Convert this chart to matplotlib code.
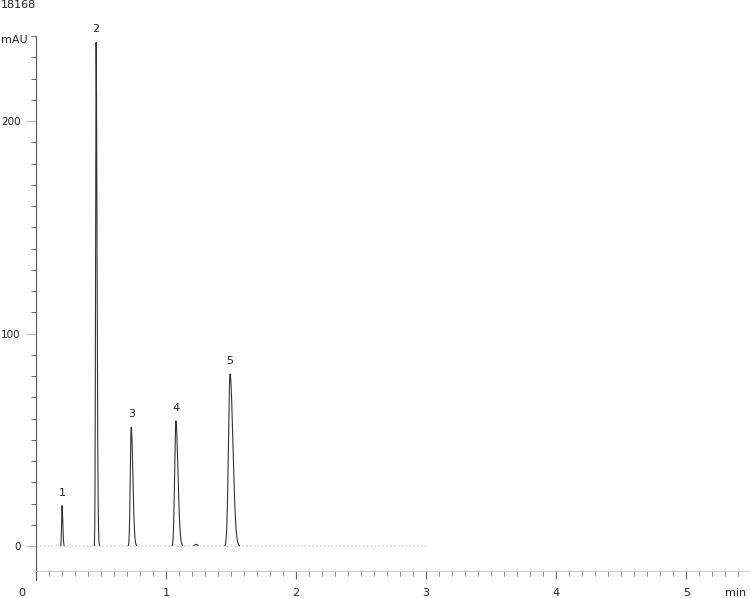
import numpy as np
import matplotlib.pyplot as plt
from matplotlib.ticker import MultipleLocator, FixedLocator
import matplotlib.transforms as mtransforms

# peak table
peak_ids = ["1", "2", "3", "4", "5"]
peak_rt = [0.20, 0.462, 0.732, 1.075, 1.492]       # min
peak_height = [19.0, 237.0, 56.0, 59.0, 81.0]      # mAU
peak_sigma = [0.0035, 0.004, 0.007, 0.009, 0.012]  # min (front side)
peak_tail = [1.6, 1.8, 1.8, 1.8, 1.8]             # back / front width ratio

# small unlabeled bump
bump_rt = [1.23]
bump_height = [0.8]
bump_sigma = [0.012]

run_end = 3.0
sample_id = "18168"

t = np.arange(0.0, run_end, 0.0005)
signal = np.zeros_like(t)
for rt, h, s, k in zip(peak_rt, peak_height, peak_sigma, peak_tail):
    sig = np.where(t < rt, s, s * k)
    signal += h * np.exp(-0.5 * ((t - rt) / sig) ** 2)
for rt, h, s in zip(bump_rt, bump_height, bump_sigma):
    signal += h * np.exp(-0.5 * ((t - rt) / s) ** 2)

fig = plt.figure(figsize=(7.5, 5.98), dpi=100)
ax = fig.add_axes([36 / 750, 1 - 571 / 598, 1 - 36 / 750, (571 - 35) / 598])

# faint baseline, dark peaks
trace = np.where(signal > 0.3, signal, np.nan)
ax.plot(t, np.zeros_like(t), color="#c8c8c8", lw=0.7, ls=(0, (2, 2)))
ax.plot(t, trace, color="#333333", lw=0.8)

ax.set_xlim(0, 5.49)
ax.set_ylim(-11.7, 240.5)

for s in ["top", "right"]:
    ax.spines[s].set_visible(False)
ax.spines["left"].set_color("#555555")
ax.spines["bottom"].set_color("#cccccc")
ax.spines["left"].set_bounds(-16, 240)

ax.yaxis.set_major_locator(FixedLocator([0, 100, 200]))
ax.yaxis.set_minor_locator(FixedLocator(np.arange(10, 241, 10)))
ax.xaxis.set_major_locator(MultipleLocator(1))
ax.xaxis.set_minor_locator(MultipleLocator(0.1))

ax.tick_params(axis="y", which="major", length=7, color="#bbbbbb", pad=4,
               labelsize=7.5, labelcolor="#222222")
ax.tick_params(axis="y", which="minor", length=3.5, color="#555555")
ax.tick_params(axis="x", which="major", length=6, color="#666666", pad=6,
               labelsize=8, labelcolor="#222222")
ax.tick_params(axis="x", which="minor", length=3.5, color="#777777")

ax.set_xticks([0, 1, 2, 3, 4, 5])
ax.set_xticklabels(["", "1", "2", "3", "4", "5"])

# x label "0" sits left of the axis origin, "min" at the end
xtrans = mtransforms.blended_transform_factory(ax.transData, ax.transAxes)
ax.annotate("0", xy=(-0.108, 0), xycoords=xtrans, xytext=(0, -12),
            textcoords="offset points", ha="center", va="top", fontsize=8,
            color="#222222", annotation_clip=False)
ax.annotate("min", xy=(5.38, 0), xycoords=xtrans, xytext=(0, -12),
            textcoords="offset points", ha="center", va="top", fontsize=8,
            color="#222222", annotation_clip=False)

fig.text(0.5 / 750, 1 - 40 / 598, "mAU", ha="left", va="center", fontsize=8,
         color="#222222")
fig.text(0.5 / 750, 1 - 5 / 598, sample_id, ha="left", va="center", fontsize=8,
         color="#222222")

for lab, rt, h in zip(peak_ids, peak_rt, peak_height):
    ax.annotate(lab, xy=(rt, h), xytext=(0, 9.5), textcoords="offset points",
                ha="center", va="center", fontsize=8, color="#222222",
                annotation_clip=False)

fig.savefig("out.png", dpi=100)
